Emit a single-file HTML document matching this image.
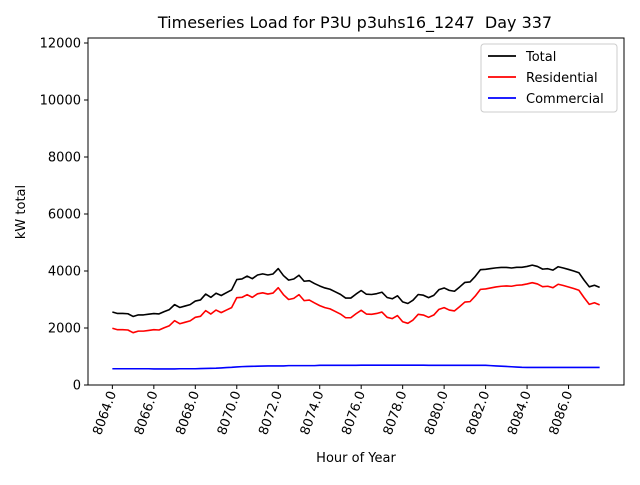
<!DOCTYPE html>
<html><head><meta charset="utf-8"><style>
body{margin:0;background:#fff;}
svg text{font-family:"DejaVu Sans","Liberation Sans",sans-serif;fill:#000;}
</style></head><body>
<svg id="chart" width="640" height="480" viewBox="0 0 640 480">
<rect width="640" height="480" fill="#fff"/>
<text x="355" y="28" font-size="16" text-anchor="middle">Timeseries Load for P3U p3uhs16_1247&#160; Day 337</text>
<g id="plot"></g>
<text x="356" y="462" font-size="13" text-anchor="middle">Hour of Year</text>
<text x="25" y="212" font-size="13" text-anchor="middle" transform="rotate(-90 25 212)">kW total</text>
</svg>
<script>
const hourStart = 8064;
const stepHours = 0.25;
const totalLoad = [2560,2510,2510,2500,2405,2460,2460,2485,2505,2495,2575,2645,2820,2720,2770,2820,2945,2985,3190,3075,3220,3140,3240,3335,3700,3720,3820,3730,3860,3900,3860,3895,4085,3840,3680,3720,3850,3640,3660,3560,3475,3405,3360,3270,3180,3050,3050,3190,3315,3185,3175,3205,3255,3070,3025,3130,2915,2860,2975,3175,3150,3065,3145,3345,3405,3320,3290,3440,3600,3615,3810,4045,4060,4085,4110,4125,4125,4105,4130,4130,4160,4205,4160,4065,4080,4030,4150,4105,4055,4000,3940,3680,3445,3500,3425];
const residentialLoad = [1990,1940,1940,1930,1835,1890,1890,1915,1940,1930,2010,2080,2255,2150,2200,2250,2375,2410,2610,2490,2630,2540,2630,2715,3065,3075,3170,3075,3200,3235,3190,3225,3415,3170,3000,3040,3170,2960,2980,2880,2785,2715,2670,2580,2490,2360,2360,2500,2620,2490,2480,2510,2560,2375,2330,2435,2220,2165,2280,2480,2455,2375,2455,2655,2715,2630,2600,2750,2910,2925,3120,3355,3370,3405,3440,3465,3475,3465,3500,3510,3545,3590,3545,3450,3465,3415,3535,3490,3440,3385,3325,3065,2830,2885,2810];
const commercialLoad = [570,570,570,570,570,570,570,570,565,565,565,565,565,570,570,570,570,575,580,585,590,600,610,620,635,645,650,655,660,665,670,670,670,670,680,680,680,680,680,680,690,690,690,690,690,690,690,690,695,695,695,695,695,695,695,695,695,695,695,695,695,690,690,690,690,690,690,690,690,690,690,690,690,680,670,660,650,640,630,620,615,615,615,615,615,615,615,615,615,615,615,615,615,615,615];
const yTicks = [0,2000,4000,6000,8000,10000,12000];
const xTicks = [8064,8066,8068,8070,8072,8074,8076,8078,8080,8082,8084,8086];
const seriesNames = ["Total","Residential","Commercial"];
const seriesColors = ["#000000","#ff0000","#0000ff"];

const L=88,R=624,T=38,B=385;
const n=totalLoad.length;
const xMinD=hourStart, xMaxD=hourStart+(n-1)*stepHours, pad=(xMaxD-xMinD)*0.05;
const x0=xMinD-pad, x1=xMaxD+pad, y0=0, y1=12175;
const sx=v=>L+(v-x0)/(x1-x0)*(R-L);
const sy=v=>B-(v-y0)/(y1-y0)*(B-T);
const NS="http://www.w3.org/2000/svg";
const g=document.getElementById('plot');
function mk(tag,attrs,parent){const e=document.createElementNS(NS,tag);for(const k in attrs)e.setAttribute(k,attrs[k]);(parent||g).appendChild(e);return e;}

[totalLoad,residentialLoad,commercialLoad].forEach((arr,si)=>{
  const pts=arr.map((v,i)=>sx(hourStart+i*stepHours).toFixed(2)+','+sy(v).toFixed(2)).join(' ');
  const pl=mk('polyline',{points:pts,fill:'none',stroke:seriesColors[si],'stroke-width':1.6,'stroke-linejoin':'round'});
  
  
});

const frame=mk('rect',{x:L,y:T,width:R-L,height:B-T,fill:'none',stroke:'#000','stroke-width':1});



yTicks.forEach(v=>{
  const y=sy(v);
  const tk=mk('line',{x1:L-4,x2:L,y1:y,y2:y,stroke:'#000'});
  
  
  const t=mk('text',{x:L-7,y:y+4.5,'font-size':13,'text-anchor':'end'});
  t.textContent=v;
  
  
});
xTicks.forEach(v=>{
  const x=sx(v);
  const tk=mk('line',{x1:x,x2:x,y1:B,y2:B+4,stroke:'#000'});
  
  
  const t=mk('text',{x:x+4,y:B+8,'font-size':13,'text-anchor':'end',transform:`rotate(-70 ${x+4} ${B+8})`});
  t.textContent=v.toFixed(1);
  
  
});

const lg=mk('g',{});


mk('rect',{x:481,y:44,width:136,height:68,rx:3,fill:'#fff',stroke:'#ccc'},lg);
seriesNames.forEach((nm,i)=>{
  const y=56+i*21;
  const ln=mk('line',{x1:488,x2:516,y1:y,y2:y,stroke:seriesColors[i],'stroke-width':1.8},lg);
  
  
  const t=mk('text',{x:526,y:y+5,'font-size':13},lg);
  t.textContent=nm;
  
  
});
</script>
</body></html>
